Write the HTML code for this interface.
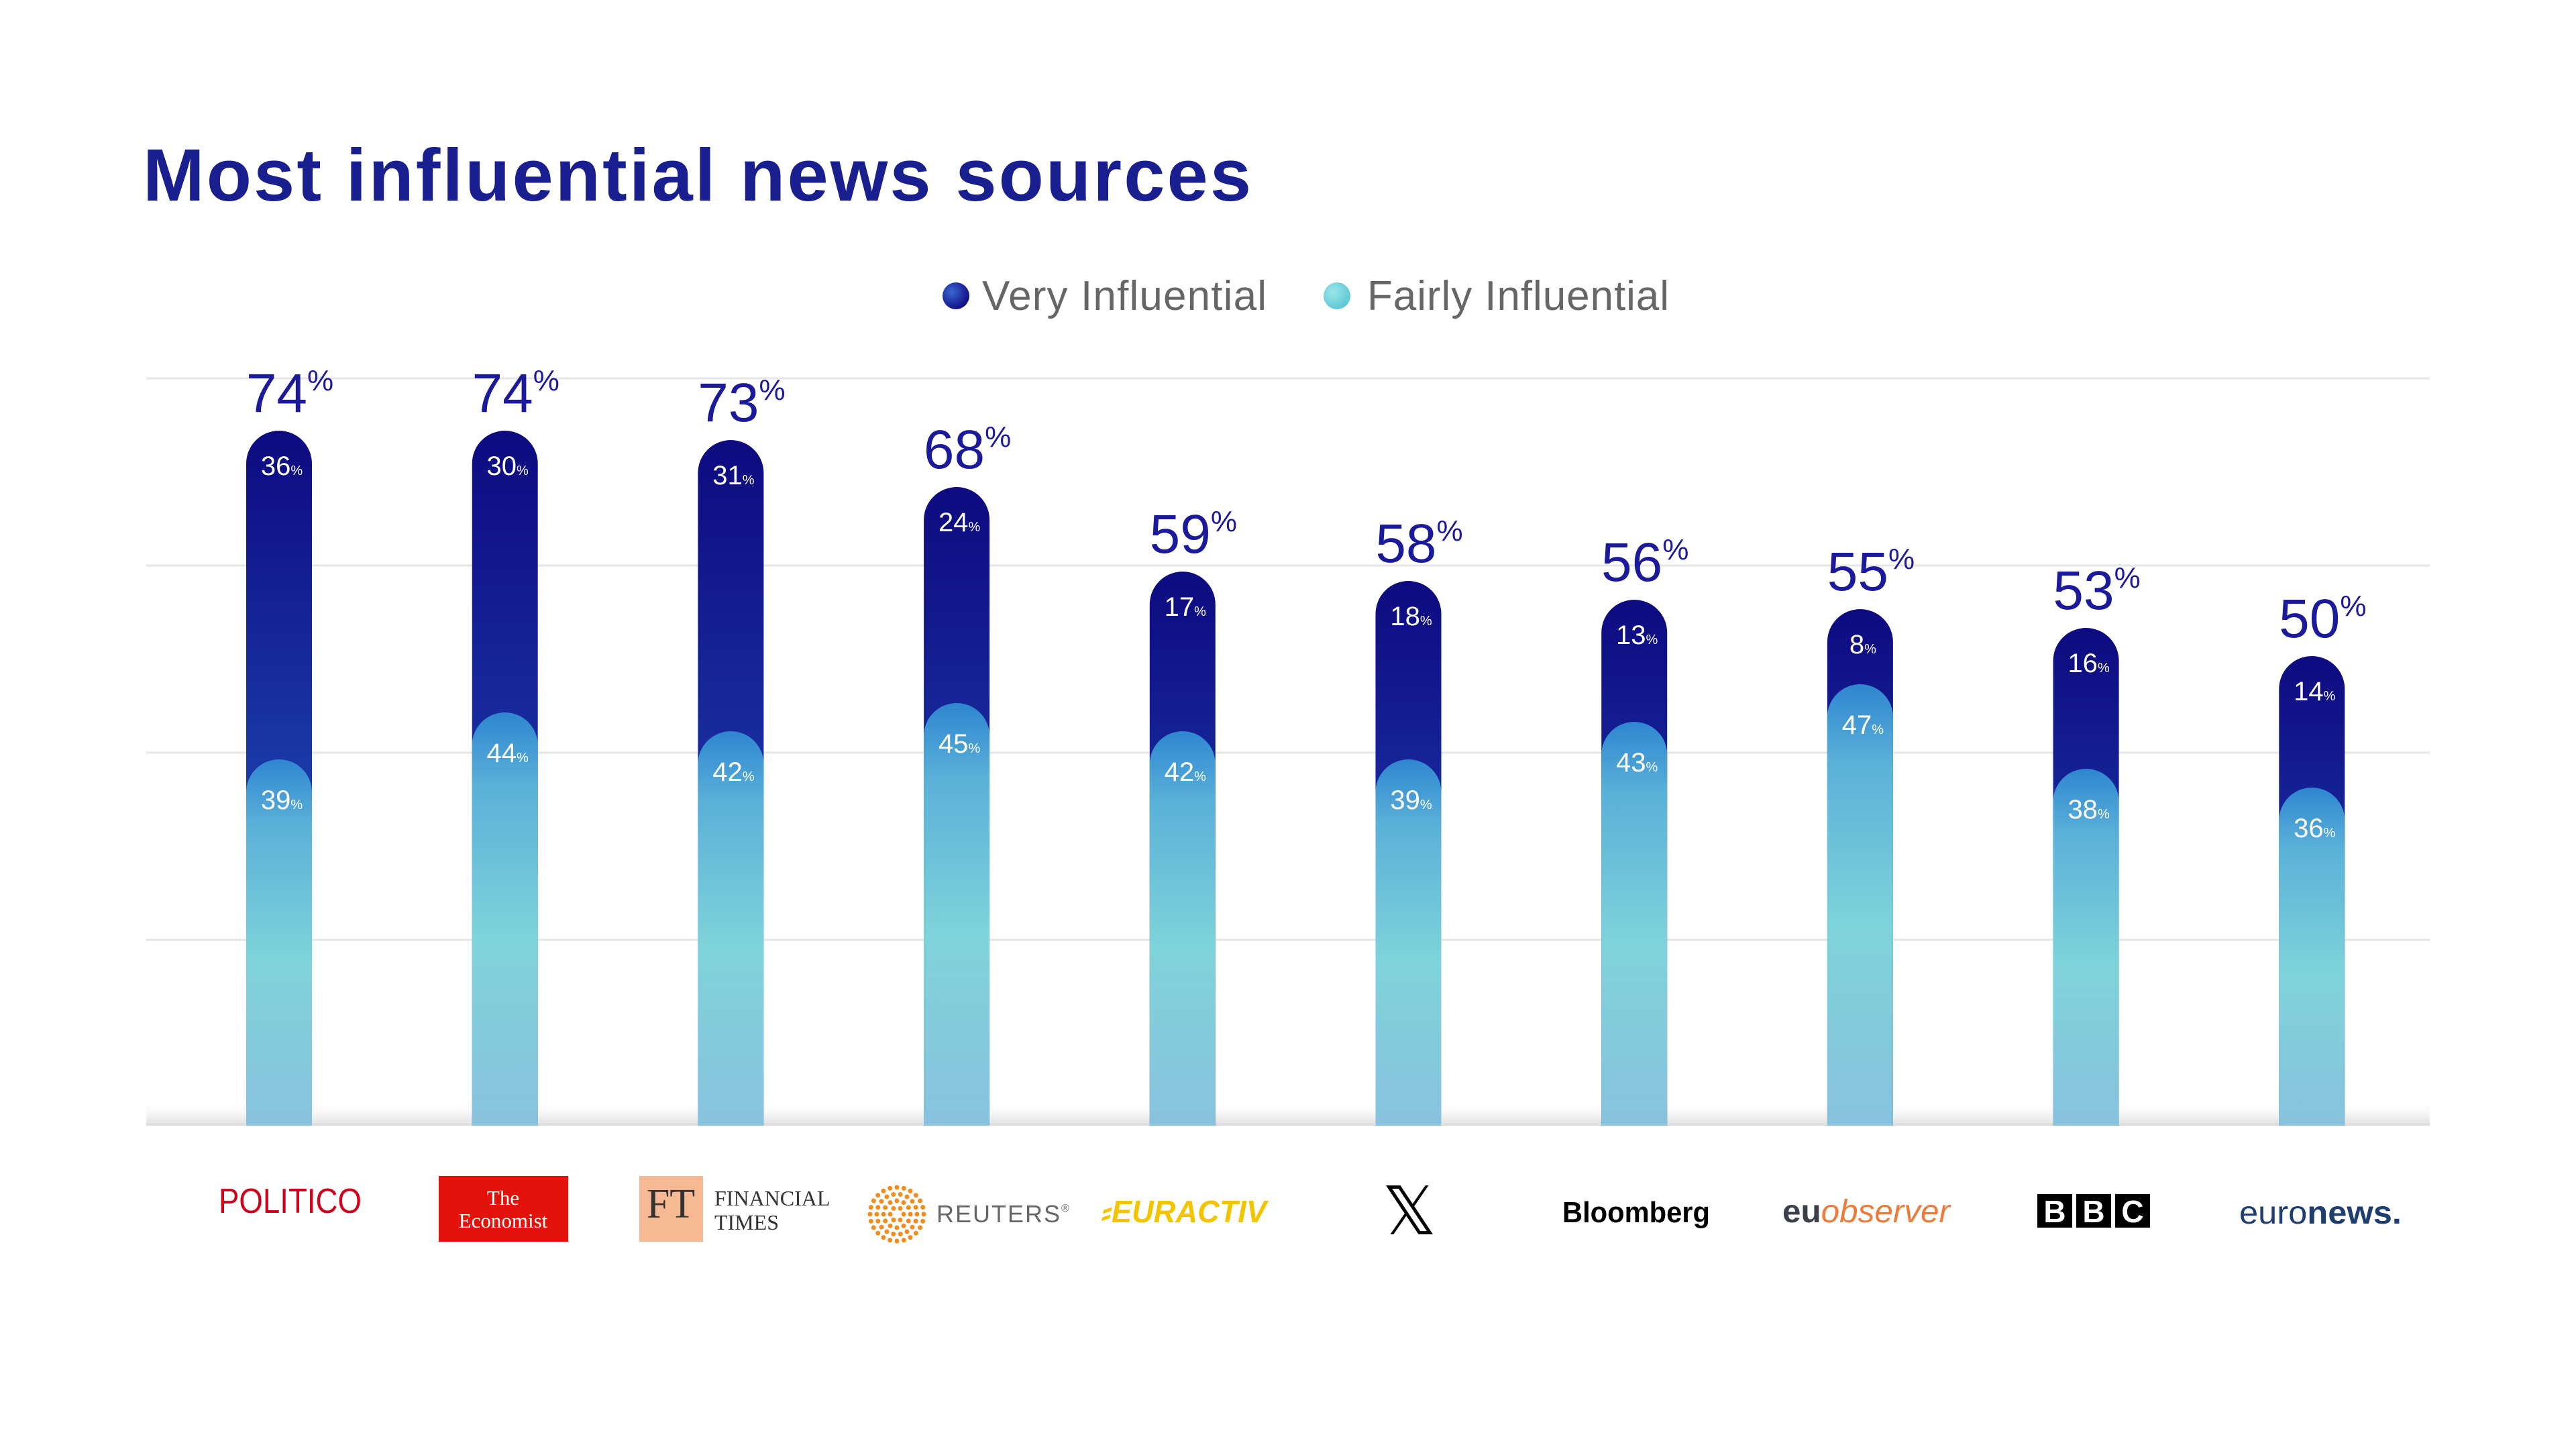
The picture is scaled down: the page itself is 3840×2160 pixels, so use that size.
<!DOCTYPE html>
<html><head><meta charset="utf-8"><style>
html,body{margin:0;padding:0;background:#fff}
svg{display:block}
</style></head><body>
<svg width="3840" height="2160" viewBox="0 0 3840 2160" xmlns="http://www.w3.org/2000/svg" font-family="Liberation Sans, sans-serif">
<defs>
<linearGradient id="dk" x1="0" y1="0" x2="0" y2="1">
<stop offset="0" stop-color="#0e0a80"/><stop offset="0.55" stop-color="#1a34a4"/><stop offset="1" stop-color="#2148b2"/>
</linearGradient>
<linearGradient id="dk0" x1="0" y1="0" x2="0" y2="1">
<stop offset="0" stop-color="#0e0a80"/><stop offset="0.5" stop-color="#1a3aa8"/><stop offset="1" stop-color="#5a6cc8"/>
</linearGradient>
<linearGradient id="fl" x1="0" y1="0" x2="0" y2="1">
<stop offset="0" stop-color="#2f86d0"/><stop offset="0.18" stop-color="#5ab1d8"/><stop offset="0.55" stop-color="#7fd3da"/><stop offset="1" stop-color="#88c2de"/>
</linearGradient>
<linearGradient id="base" x1="0" y1="0" x2="0" y2="1">
<stop offset="0" stop-color="#ffffff" stop-opacity="0"/><stop offset="1" stop-color="#dcdcdc"/>
</linearGradient>
<radialGradient id="ld1" cx="0.35" cy="0.35" r="0.7"><stop offset="0" stop-color="#3a66d0"/><stop offset="1" stop-color="#0e0a80"/></radialGradient>
<radialGradient id="ld2" cx="0.35" cy="0.35" r="0.7"><stop offset="0" stop-color="#9ae6e6"/><stop offset="1" stop-color="#5cc6d6"/></radialGradient>
</defs>

<text x="213" y="299" font-size="110" font-weight="bold" fill="#1a1f8f" textLength="1652" lengthAdjust="spacing">Most influential news sources</text>

<circle cx="1425" cy="441" r="20" fill="url(#ld1)"/>
<text x="1464" y="462" font-size="62" fill="#666" textLength="424" lengthAdjust="spacing">Very Influential</text>
<circle cx="1993" cy="441" r="20" fill="url(#ld2)"/>
<text x="2038" y="462" font-size="62" fill="#666" textLength="450" lengthAdjust="spacing">Fairly Influential</text>

<g stroke="#e6e6e6" stroke-width="3">
<line x1="218" y1="564" x2="3622" y2="564"/>
<line x1="218" y1="843" x2="3622" y2="843"/>
<line x1="218" y1="1122" x2="3622" y2="1122"/>
<line x1="218" y1="1401" x2="3622" y2="1401"/>
</g>
<rect x="218" y="1640" width="3404" height="38" fill="url(#base)"/>

<g id="bars"></g>

<!-- logos -->
<text x="326" y="1808" font-size="52" fill="#d0021b" textLength="213" lengthAdjust="spacingAndGlyphs">POLITICO</text>
<rect x="654" y="1753" width="193" height="98" fill="#e3120b"/>
<text x="750" y="1796" font-size="31" fill="#fff" font-family="Liberation Serif, serif" text-anchor="middle">The</text>
<text x="750" y="1830" font-size="31" fill="#fff" font-family="Liberation Serif, serif" text-anchor="middle">Economist</text>
<rect x="953" y="1753" width="95" height="98" fill="#f7b894"/>
<text x="1000" y="1815" font-size="62" fill="#333" font-family="Liberation Serif, serif" text-anchor="middle">FT</text>
<text x="1065" y="1797" font-size="32" fill="#333" font-family="Liberation Serif, serif">FINANCIAL</text>
<text x="1065" y="1833" font-size="32" fill="#333" font-family="Liberation Serif, serif">TIMES</text>
<g fill="#f28c1c" id="reut"></g>
<text x="1396" y="1822" font-size="36" fill="#666" letter-spacing="2">REUTERS<tspan font-size="16" dy="-16">®</tspan></text>
<text x="1642" y="1822" font-size="46" font-weight="bold" font-style="italic" fill="#f5c400" textLength="246" lengthAdjust="spacingAndGlyphs">⸗EURACTIV</text>
<text x="2101" y="1840" font-size="100" fill="#000" text-anchor="middle">𝕏</text>
<text x="2329" y="1822" font-size="44" font-weight="bold" fill="#000" textLength="220" lengthAdjust="spacingAndGlyphs">Bloomberg</text>
<text x="2657" y="1822" font-size="48" fill="#3a3f4a" font-weight="bold" textLength="250" lengthAdjust="spacingAndGlyphs">eu<tspan fill="#ee7b3a" font-style="italic" font-weight="normal">observer</tspan></text>
<g font-weight="bold" font-size="46" fill="#fff" text-anchor="middle">
<rect x="3037" y="1780" width="52" height="50" fill="#000"/><text x="3063" y="1822">B</text>
<rect x="3095" y="1780" width="52" height="50" fill="#000"/><text x="3121" y="1822">B</text>
<rect x="3153" y="1780" width="52" height="50" fill="#000"/><text x="3179" y="1822">C</text>
</g>
<text x="3338" y="1824" font-size="48" fill="#1d3e6e" textLength="242" lengthAdjust="spacingAndGlyphs">euro<tspan font-weight="bold">news.</tspan></text>
</svg>
<script>
var tot=[74,74,73,68,59,58,56,55,53,50],vy=[36,30,31,24,17,18,13,8,16,14],fa=[39,44,42,45,42,39,43,47,38,36];
var g=document.getElementById('bars'),h='';
for(var i=0;i<10;i++){var c=416+i*336.7,x=c-49,t=1678-tot[i]*14,f=1678-fa[i]*14;
function cap(top){return 'M'+x+' 1678V'+(top+49)+'A49 49 0 0 1 '+(x+98)+' '+(top+49)+'V1678Z';}
h+='<path d="'+cap(t)+'" fill="url(#'+(i==0?'dk0':'dk')+')"/>';
h+='<path d="'+cap(f)+'" fill="url(#fl)"/>';
h+='<text x="'+(c+16)+'" y="'+(t-28)+'" font-size="82" fill="#1a1a9a" text-anchor="middle">'+tot[i]+'<tspan font-size="44" dy="-32">%</tspan></text>';
h+='<text x="'+(c+4)+'" y="'+(t+66)+'" font-size="40" fill="#fff" text-anchor="middle">'+vy[i]+'<tspan font-size="20">%</tspan></text>';
h+='<text x="'+(c+4)+'" y="'+(f+74)+'" font-size="40" fill="#fff" text-anchor="middle">'+fa[i]+'<tspan font-size="20">%</tspan></text>';}
g.innerHTML=h;
var r='';for(var k=0;k<4;k++){var rad=10+k*10,n=6+k*6;for(var j=0;j<n;j++){var a=j*2*Math.PI/n;r+='<circle cx="'+(1337+rad*Math.cos(a))+'" cy="'+(1810+rad*Math.sin(a))+'" r="3.5"/>';}}
document.getElementById('reut').innerHTML=r;
</script>
</body></html>
